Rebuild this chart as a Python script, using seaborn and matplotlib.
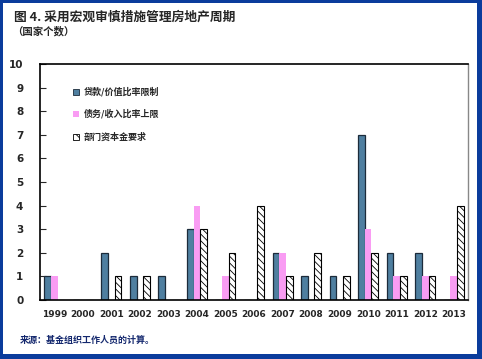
import pandas as pd
import matplotlib
matplotlib.use('Agg')
import matplotlib.pyplot as plt
import seaborn as sns

# 数据
years = ['1999', '2000', '2001', '2002', '2003', '2004', '2005', '2006',
         '2007', '2008', '2009', '2010', '2011', '2012', '2013']
ltv = [1, 0, 2, 1, 1, 3, 0, 0, 2, 1, 1, 7, 2, 2, 0]
dti = [1, 0, 0, 0, 0, 4, 1, 0, 2, 0, 0, 3, 1, 1, 1]
capital = [0, 0, 1, 1, 0, 3, 2, 4, 1, 2, 1, 2, 1, 1, 4]
series_names = ['贷款/价值比率限制', '债务/收入比率上限', '部门资本金要求']

df = pd.DataFrame({
    'year': years * 3,
    'value': ltv + dti + capital,
    'series': [series_names[0]] * len(years) + [series_names[1]] * len(years)
              + [series_names[2]] * len(years),
})

sns.set_style('white')
plt.rcParams['font.family'] = ['Noto Sans CJK SC', 'DejaVu Sans']
plt.rcParams['hatch.linewidth'] = 0.6

fig = plt.figure(figsize=(4.82, 3.59), dpi=100)
fig.patch.set_facecolor('#0B3C9C')
# 白色底板
fig.patches.append(plt.Rectangle((3 / 482, 5 / 359), 474 / 482, 351 / 359,
                                 transform=fig.transFigure, facecolor='white',
                                 edgecolor='none', zorder=-5))

ax = fig.add_axes([40 / 482, 1 - 300 / 359, 428 / 482, 236 / 359])
ax.set_zorder(2)
palette = {series_names[0]: '#4F7FA0', series_names[1]: '#F99CF3',
           series_names[2]: 'white'}
sns.barplot(data=df, x='year', y='value', hue='series', palette=palette,
            width=0.7, saturation=1, ax=ax, legend=False)

for i, cont in enumerate(ax.containers):
    for p in cont:
        if i == 0:
            p.set_edgecolor('#1C2B3A')
            p.set_linewidth(0.9)
        elif i == 1:
            p.set_edgecolor('none')
        else:
            p.set_facecolor('white')
            p.set_edgecolor('black')
            p.set_hatch('\\\\\\\\\\')
            p.set_linewidth(0.8)

ax.set_ylim(0, 10)
ax.set_xlim(-0.5, len(years) - 0.5)
ax.set_yticks(range(0, 11))
ax.set_xlabel('')
ax.set_ylabel('')
ax.set_xticks(range(len(years)))
ax.set_xticklabels(years, fontweight='bold', fontsize=6.5, family='DejaVu Sans')
for t in ax.get_yticklabels():
    t.set_fontweight('bold')
    t.set_fontsize(7.5)
    t.set_family('DejaVu Sans')
ax.set_xticks([i + 0.5 for i in range(len(years) - 1)], minor=True)
ax.tick_params(axis='x', which='major', length=0, pad=7)
ax.tick_params(axis='x', which='minor', direction='in', length=3, width=0.8)
ax.tick_params(axis='y', direction='in', length=4, width=0.8, left=True, pad=12)

for side in ['left', 'bottom', 'top']:
    ax.spines[side].set_color('black')
    ax.spines[side].set_linewidth(1.2)
ax.spines['right'].set_color('#888888')
ax.spines['right'].set_linewidth(1.0)

# 图例
legend_y = [92, 114, 137]
marker_styles = [dict(facecolor='#4F7FA0', edgecolor='#1C2B3A'),
                 dict(facecolor='#F99CF3', edgecolor='none'),
                 dict(facecolor='white', edgecolor='black', hatch='\\\\\\\\')]
for name, y, st in zip(series_names, legend_y, marker_styles):
    fig.patches.append(plt.Rectangle((73 / 482, 1 - (y + 3) / 359), 6 / 482, 6 / 359,
                                     transform=fig.transFigure, linewidth=0.6,
                                     zorder=5, **st))
    fig.text(84 / 482, 1 - y / 359, name, fontsize=6.5, fontweight='bold',
             va='center', ha='left', zorder=5)

fig.text(14 / 482, 1 - 17 / 359, '图 4. 采用宏观审慎措施管理房地产周期',
         fontsize=9.2, fontweight='bold', va='center', ha='left')
fig.text(12 / 482, 1 - 31 / 359, '（国家个数）', fontsize=7.5, fontweight='bold',
         va='center', ha='left')
fig.text(20 / 482, 1 - 340 / 359, '来源：基金组织工作人员的计算。', fontsize=6.5,
         fontweight='bold', va='center', ha='left', color='#14286E')

fig.savefig('out.png', dpi=100, facecolor=fig.get_facecolor())
